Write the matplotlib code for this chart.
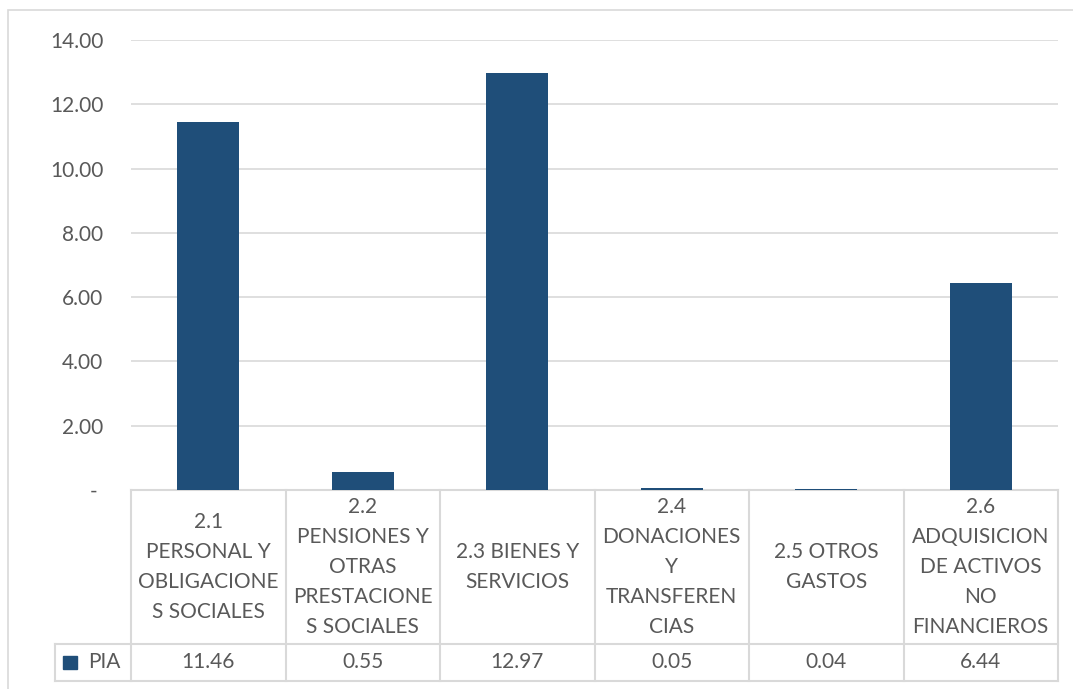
import matplotlib
matplotlib.use("Agg")
import matplotlib.pyplot as plt
from matplotlib.patches import Rectangle
from matplotlib.transforms import blended_transform_factory

categories = [
    "2.1\nPERSONAL Y\nOBLIGACIONE\nS SOCIALES",
    "2.2\nPENSIONES Y\nOTRAS\nPRESTACIONE\nS SOCIALES",
    "2.3 BIENES Y\nSERVICIOS",
    "2.4\nDONACIONES\nY\nTRANSFEREN\nCIAS",
    "2.5 OTROS\nGASTOS",
    "2.6\nADQUISICION\nDE ACTIVOS\nNO\nFINANCIEROS",
]
values = [11.46, 0.55, 12.97, 0.05, 0.04, 6.44]
value_labels = ["11.46", "0.55", "12.97", "0.05", "0.04", "6.44"]
series_name = "PIA"
yticks = [0, 2, 4, 6, 8, 10, 12, 14]
ytick_labels = ["-\u00a0", "2.00", "4.00", "6.00", "8.00", "10.00", "12.00", "14.00"]

W, H = 1073, 689
BAR = "#1F4E79"
TXT = "#595959"
GRID = "#D9D9D9"
FONT = ["Lato", "DejaVu Sans"]
FS = 15
plt.rcParams["font.family"] = FONT

fig = plt.figure(figsize=(W / 100, H / 100), dpi=100)
fig.patch.set_facecolor("white")

# outer chart frame
fig.patches.append(Rectangle((8 / W, -0.05), 1.2, (H - 10) / H + 0.05,
                             transform=fig.transFigure, fill=False,
                             edgecolor=GRID, linewidth=1.2))

left, right, top, bottom = 131, 1058, 40, 490
ax = fig.add_axes([left / W, 1 - bottom / H, (right - left) / W, (bottom - top) / H])
x = list(range(len(values)))
ax.bar(x, values, width=0.4, color=BAR, zorder=3)
ax.set_xlim(-0.5, len(values) - 0.5)
ax.set_ylim(0, 14)
ax.set_yticks(yticks)
ax.set_yticklabels(ytick_labels)
ax.tick_params(axis="y", length=0, pad=20, labelsize=FS, labelcolor=TXT)
ax.set_xticks([])
for s in ax.spines.values():
    s.set_visible(False)
ax.grid(axis="y", color=GRID, linewidth=1.2, zorder=0)
ax.set_axisbelow(True)

# data table below the plot
ph = bottom - top
y_head_bot = -(644 - bottom) / ph
y_val_bot = -(681 - bottom) / ph
tr = blended_transform_factory(ax.transData, ax.transAxes)
lk = dict(color=GRID, linewidth=1.5, clip_on=False, transform=tr)
n = len(values)
ax.plot([-0.5, n - 0.5], [0, 0], **lk)
for i in range(n + 1):
    ax.plot([i - 0.5, i - 0.5], [0, y_val_bot], **lk)
leg_left = -0.5 - (left - 55) / ((right - left) / n)
ax.plot([leg_left, n - 0.5], [y_head_bot, y_head_bot], **lk)
ax.plot([leg_left, n - 0.5], [y_val_bot, y_val_bot], **lk)
ax.plot([leg_left, leg_left], [y_head_bot, y_val_bot], **lk)

for i, (c, v) in enumerate(zip(categories, value_labels)):
    ax.text(i, y_head_bot / 2, c, ha="center", va="center", fontsize=FS,
            color=TXT, linespacing=1.62, transform=tr, clip_on=False)
    ax.text(i, (y_head_bot + y_val_bot) / 2, v, ha="center", va="center",
            fontsize=FS, color=TXT, transform=tr, clip_on=False)

# legend key in table
ymid = (y_head_bot + y_val_bot) / 2
px = (right - left) / n
ax.add_patch(Rectangle((-0.5 - (left - 63) / px, ymid - 6.5 / ph), 14 / px, 13 / ph,
                       transform=tr, color=BAR, clip_on=False))
ax.text(-0.5 - (left - 88) / px, ymid, series_name, ha="left", va="center",
        fontsize=FS, color=TXT, transform=tr, clip_on=False)

fig.savefig("out.png", dpi=100, facecolor="white")
